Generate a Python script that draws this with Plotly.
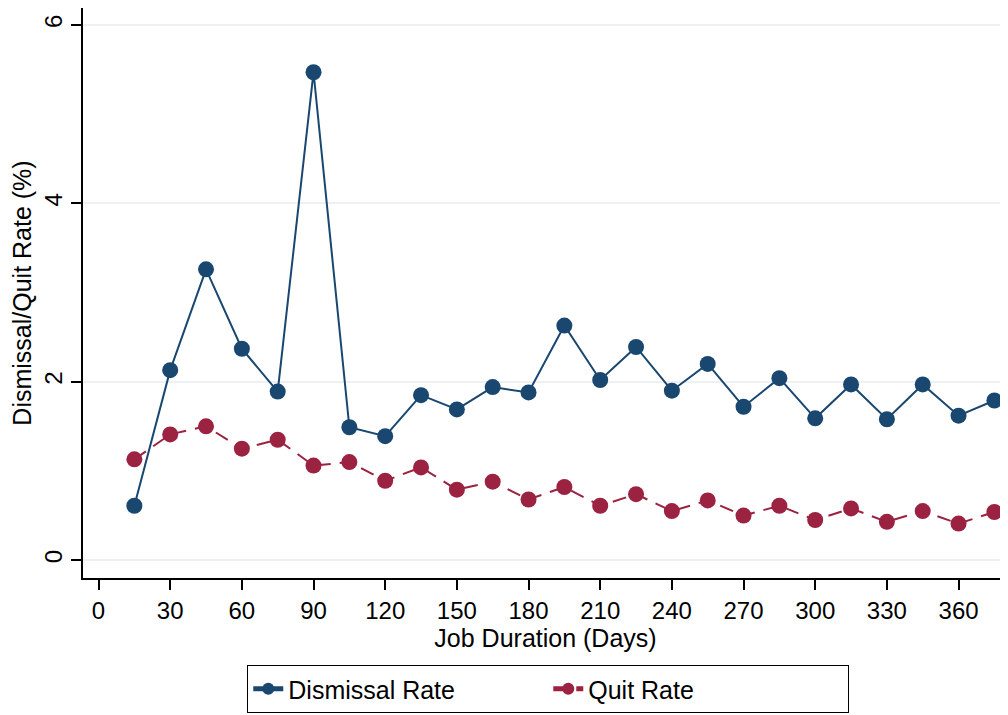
import plotly.graph_objects as go

days = [15, 30, 45, 60, 75, 90, 105, 120, 135, 150, 165, 180, 195, 210, 225,
        240, 255, 270, 285, 300, 315, 330, 345, 360, 375]
dismissal_rate = [0.61, 2.13, 3.26, 2.37, 1.89, 5.47, 1.49, 1.39, 1.85, 1.69,
                  1.94, 1.88, 2.63, 2.02, 2.39, 1.90, 2.20, 1.72, 2.04, 1.59,
                  1.97, 1.58, 1.97, 1.62, 1.79]
quit_rate = [1.13, 1.41, 1.50, 1.25, 1.35, 1.06, 1.10, 0.89, 1.04, 0.79,
             0.88, 0.68, 0.82, 0.61, 0.74, 0.55, 0.67, 0.50, 0.61, 0.45,
             0.58, 0.43, 0.55, 0.41, 0.54]
x_ticks = [0, 30, 60, 90, 120, 150, 180, 210, 240, 270, 300, 330, 360]
y_ticks = [0, 2, 4, 6]

NAVY = "#1a476f"
MAROON = "#9b2240"
FONT = "Liberation Sans, Arial, Helvetica, sans-serif"

fig = go.Figure()
fig.add_trace(go.Scatter(
    x=days, y=dismissal_rate, mode="lines+markers", name="Dismissal Rate",
    line=dict(color=NAVY, width=2),
    marker=dict(color=NAVY, size=16),
))
fig.add_trace(go.Scatter(
    x=days, y=quit_rate, mode="lines+markers", name="Quit Rate",
    line=dict(color=MAROON, width=2, dash="14px,9px"),
    marker=dict(color=MAROON, size=16),
))

fig.update_layout(
    width=1000, height=707,
    paper_bgcolor="white", plot_bgcolor="white",
    margin=dict(l=75, r=0, t=0, b=137, pad=0, autoexpand=False),
    font=dict(family=FONT, size=24, color="black"),
    showlegend=True,
    legend=dict(
        orientation="h", x=0.503, xanchor="center", y=-0.237, yanchor="bottom",
        bordercolor="black", borderwidth=1, bgcolor="white",
        font=dict(size=25), entrywidth=255, entrywidthmode="pixels",
        itemsizing="constant",
    ),
)
fig.update_xaxes(
    range=[-6.5, 380.7], tickvals=x_ticks, ticktext=[str(v) for v in x_ticks],
    automargin=False, tickfont=dict(size=24),
    showline=True, linecolor="black", linewidth=1.5,
    ticks="outside", ticklen=10, tickwidth=1.5, tickcolor="black",
    showgrid=False, zeroline=False,
    title=dict(text="Job Duration (Days)", font=dict(size=25), standoff=2),
)
fig.update_yaxes(
    range=[-0.2, 6.19], tickvals=y_ticks, ticktext=[str(v) for v in y_ticks],
    tickangle=-90, automargin=False, tickfont=dict(size=24),
    showline=True, linecolor="black", linewidth=1.5,
    ticks="outside", ticklen=10, tickwidth=1.5, tickcolor="black",
    showgrid=True, gridcolor="#eef1f3", gridwidth=1.5, zeroline=False,
    title=dict(text="Dismissal/Quit Rate (%)", font=dict(size=25), standoff=2),
)

fig.write_html("out.html")
